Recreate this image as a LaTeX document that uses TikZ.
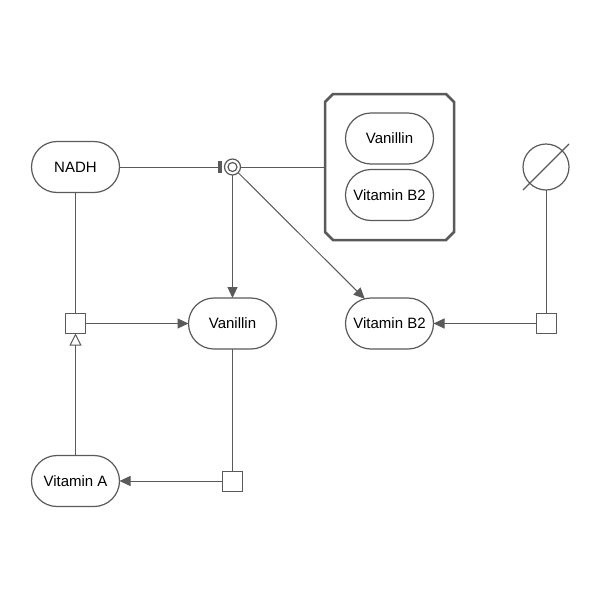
\documentclass[tikz,border=0pt]{standalone}
\usepackage{fontspec}
\setmainfont{Liberation Sans}
\usetikzlibrary{shapes.misc,arrows.meta}
\definecolor{ln}{HTML}{5A5A5A}
\begin{document}
\begin{tikzpicture}[x=1pt,y=-1pt,
 ent/.style={rounded rectangle, draw=ln, line width=1.2pt, minimum width=88pt, minimum height=51pt, inner sep=0pt, outer sep=0pt, font=\fontsize{15}{18}\selectfont, text=black, fill=white},
 proc/.style={draw=ln, line width=1pt, fill=white, minimum size=20pt, inner sep=0pt, outer sep=0pt},
 edge/.style={draw=ln, line width=1pt},
 prod/.style={edge, -{Triangle[length=11pt,width=10pt]}},
 stim/.style={edge, -{Triangle[open,length=12pt,width=12pt]}},
 inhib/.style={edge, -{Rectangle[length=4pt,width=12pt]}, shorten >=2.5pt},
 cplx/.style={draw=none, minimum width=129pt, minimum height=146pt, inner sep=0pt, outer sep=0pt},
]
\useasboundingbox (0,0) rectangle (600,600);
\fill[white] (0,0) rectangle (600,600);

% complex
\node[cplx] (cx) at (389.5,167) {};
\draw[ln, line width=2.5pt]
  ([xshift=8pt]cx.north west) -- ([xshift=-8pt]cx.north east) -- ([yshift=-8pt]cx.north east)
  -- ([yshift=8pt]cx.south east) -- ([xshift=-8pt]cx.south east) -- ([xshift=8pt]cx.south west)
  -- ([yshift=8pt]cx.south west) -- ([yshift=-8pt]cx.north west) -- cycle;
\node[ent] (cv) at (389.5,138.5) {Vanillin};
\node[ent] (cb) at (389.5,195) {Vitamin B2};

% entities
\node[ent] (nadh) at (75.5,167) {NADH};
\node[ent] (van) at (232.5,323.5) {Vanillin};
\node[ent] (vb2) at (389.5,323.5) {Vitamin B2};
\node[ent] (vita) at (75.5,481) {Vitamin A};

% dissociation glyph
\node[circle, draw=ln, line width=1.2pt, minimum size=16pt, inner sep=0pt, outer sep=0pt, fill=white] (dis) at (232.5,167) {};
\draw[ln, line width=1.2pt] (dis.center) circle (4.5);

% source/sink
\node[circle, draw=ln, line width=1.2pt, minimum size=46pt, inner sep=0pt, outer sep=0pt] (ss) at (546,167) {};
\draw[ln, line width=1.2pt] (ss.center) +(-23,23) -- +(23,-23);

% processes
\node[proc] (p1) at (75.5,323.5) {};
\node[proc] (p2) at (232.5,481) {};
\node[proc] (p3) at (546,323.5) {};

% connectors
\draw[inhib] (nadh.east) -- (dis.west);
\draw[edge] (dis.east) -- (dis.east -| cx.west);
\draw[prod] (dis) -- (van.north);
\draw[prod] (dis) -- (vb2);

\draw[edge] (nadh.south) -- (p1.north);
\draw[prod] (p1.east) -- (van.west);
\draw[stim] (vita.north) -- (p1.south);

\draw[edge] (van.south) -- (p2.north);
\draw[prod] (p2.west) -- (vita.east);

\draw[edge] (ss.south) -- (p3.north);
\draw[prod] (p3.west) -- (vb2.east);
\end{tikzpicture}
\end{document}
